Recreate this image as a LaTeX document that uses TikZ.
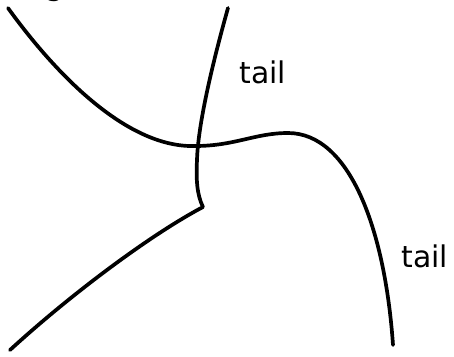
\documentclass[tikz,border=0pt]{standalone}
\usepackage{fontspec}
\setmainfont{DejaVu Sans}
\usetikzlibrary{positioning}

\tikzset{
  strand/.style={line width=2.1pt, line join=round, line cap=round},
  tag/.style={anchor=base west, inner sep=0pt, font=\fontsize{17}{20}\selectfont}
}

\begin{document}
\begin{tikzpicture}[x=0.02cm, y=-0.02cm]
  \useasboundingbox (0,0) rectangle (454,356);

  % labels
  \node[tag] (gcut) at (45,-5) {g};
  \node[tag] (tailA) at (239,83) {tail};
  \node[tag] (tailB) at (401,267) {tail};

  % the sagging strand
  \draw[strand] (8,8) .. controls (60,80) and (130,148) .. (195,146)
    .. controls (235,146) and (255,133) .. (288,133)
    .. controls (350,133) and (385,230) .. (393,345);

  % the strand with the kink
  \draw[strand] (228,8) .. controls (212,65) and (198,125) .. (197,160)
    .. controls (196,180) and (197,195) .. (203,207)
    .. controls (150,235) and (70,295) .. (10,350);
\end{tikzpicture}
\end{document}
